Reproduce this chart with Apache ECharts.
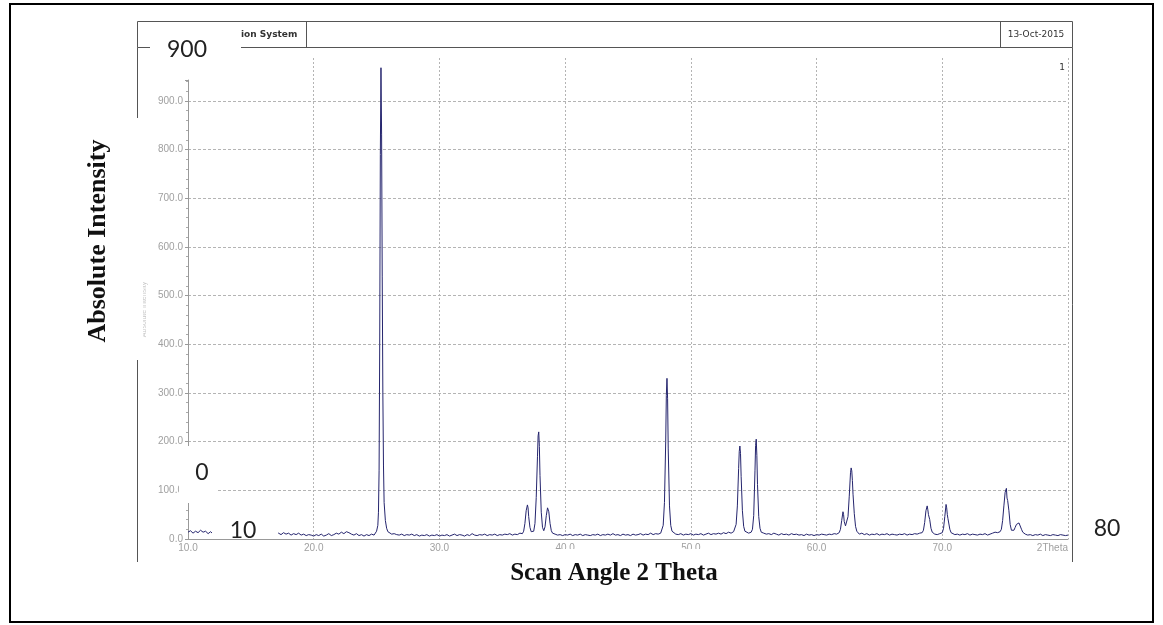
<!DOCTYPE html>
<html>
<head>
<meta charset="utf-8">
<title>XRD scan</title>
<script src="https://cdn.jsdelivr.net/npm/echarts@6/dist/echarts.min.js"></script>
<style>
  html, body { margin: 0; padding: 0; background: #fff; }
  #chart { width: 1163px; height: 625px; }
</style>
</head>
<body>
<div id="chart"></div>
<script>
// [2theta, counts], split by region
const scanA = [
  [10.0,14],[10.2,17],[10.4,12],[10.6,16],[10.8,13],[11.0,18],[11.2,14],[11.4,16],[11.6,11],[11.8,15],
  [12.0,10],[12.2,12],[12.4,9],[12.6,11],[12.8,8],[13.0,12],[13.2,10],[13.4,9],[13.6,11],[13.8,8],
  [14.0,10],[14.2,12],[14.4,9],[14.6,10],[14.8,8],[15.0,11],[15.2,9],[15.4,10],[15.6,8],[15.8,11],
  [16.0,9],[16.2,10],[16.4,8],[16.6,11],[16.8,9],[17.0,10],[17.2,12],[17.4,9],[17.6,13],[17.8,10],
  [18.0,12],[18.2,8],[18.4,11],[18.6,9],[18.8,12],[19.0,8],[19.2,10],[19.4,7],[19.6,9],[19.8,8],
  [20.0,6],[20.2,9],[20.4,7],[20.6,10],[20.8,6],[21.0,8],[21.2,11],[21.4,7],[21.6,9],[21.8,12],
  [22.0,10],[22.2,14],[22.4,11],[22.6,15],[22.8,13],[23.0,10],[23.2,8],[23.4,11],[23.6,7],[23.8,9],
  [24.0,6],[24.2,9],[24.4,7],[24.6,10],[24.8,8]
];
const peak25 = [
  [24.9,10],[25.0,16],[25.1,28],[25.15,55],[25.2,140],[25.25,400],[25.3,790],[25.35,968],[25.4,830],
  [25.45,540],[25.5,300],[25.55,150],[25.6,75],[25.7,38],[25.8,22],[25.9,15],[26.0,12],[26.2,10]
];
const scanB = [
  [26.4,11],[26.6,9],[26.8,8],[27.0,10],[27.2,7],[27.4,9],[27.6,8],[27.8,10],[28.0,7],[28.2,9],
  [28.4,6],[28.6,8],[28.8,7],[29.0,9],[29.2,6],[29.4,8],[29.6,7],[29.8,9],[30.0,6],[30.2,8],
  [30.4,7],[30.6,9],[30.8,6],[31.0,8],[31.2,10],[31.4,7],[31.6,9],[31.8,8],[32.0,6],[32.2,9],
  [32.4,7],[32.6,11],[32.8,8],[33.0,7],[33.2,9],[33.4,8],[33.6,10],[33.8,7],[34.0,9],[34.2,8],
  [34.4,10],[34.6,7],[34.8,9],[35.0,8],[35.2,10],[35.4,9],[35.6,11],[35.8,8],[36.0,10],[36.2,9],
  [36.4,12],[36.6,11]
];
const peak38 = [
  [36.7,16],[36.8,32],[36.9,58],[37.0,70],[37.05,64],[37.1,46],[37.2,24],[37.3,15],[37.4,13],
  [37.5,16],[37.6,32],[37.7,85],[37.8,170],[37.85,212],[37.9,220],[37.95,190],[38.0,130],[38.1,55],
  [38.2,24],[38.3,17],[38.4,25],[38.5,48],[38.6,64],[38.65,66],[38.7,56],[38.8,32],[38.9,17],[39.0,12]
];
const scanC = [
  [39.2,10],[39.4,8],[39.6,9],[39.8,7],[40.0,9],[40.2,8],[40.4,10],[40.6,7],[40.8,9],[41.0,8],
  [41.2,10],[41.4,7],[41.6,9],[41.8,8],[42.0,7],[42.2,9],[42.4,8],[42.6,10],[42.8,7],[43.0,9],
  [43.2,8],[43.4,10],[43.6,8],[43.8,11],[44.0,8],[44.2,9],[44.4,7],[44.6,10],[44.8,8],[45.0,9],
  [45.2,7],[45.4,10],[45.6,8],[45.8,9],[46.0,11],[46.2,8],[46.4,10],[46.6,9],[46.8,12],[47.0,9],
  [47.2,11],[47.4,10],[47.6,12]
];
const peak48 = [
  [47.7,15],[47.8,28],[47.9,75],[48.0,200],[48.05,295],[48.1,330],[48.15,288],[48.2,185],
  [48.3,68],[48.4,28],[48.5,16],[48.6,12]
];
const scanD = [
  [48.8,10],[49.0,9],[49.2,11],[49.4,8],[49.6,10],[49.8,9],[50.0,11],[50.2,8],[50.4,10],[50.6,9],
  [50.8,11],[51.0,8],[51.2,10],[51.4,12],[51.6,9],[51.8,11],[52.0,10],[52.2,12],[52.4,10],[52.6,13],
  [52.8,11],[53.0,14],[53.2,12],[53.4,15]
];
const peak54 = [
  [53.5,18],[53.6,30],[53.7,68],[53.8,145],[53.85,180],[53.9,191],[53.95,176],[54.0,128],[54.1,58],
  [54.2,26],[54.3,16],[54.4,13],[54.6,12],[54.8,14],[54.9,20],[55.0,48],[55.1,140],[55.15,192],
  [55.2,205],[55.25,172],[55.3,112],[55.4,46],[55.5,22],[55.6,14]
];
const scanE = [
  [55.8,12],[56.0,10],[56.2,11],[56.4,9],[56.6,12],[56.8,10],[57.0,8],[57.2,11],[57.4,9],[57.6,10],
  [57.8,8],[58.0,11],[58.2,9],[58.4,10],[58.6,8],[58.8,9],[59.0,7],[59.2,10],[59.4,8],[59.6,9],
  [59.8,7],[60.0,9],[60.2,8],[60.4,10],[60.6,9],[60.8,8],[61.0,10],[61.2,9],[61.4,11],[61.6,10],
  [61.8,13]
];
const peak62 = [
  [61.9,20],[62.0,38],[62.1,56],[62.15,50],[62.2,36],[62.3,27],[62.4,30],[62.5,46],[62.6,88],
  [62.7,136],[62.75,146],[62.8,140],[62.85,120],[62.9,92],[63.0,52],[63.1,26],[63.2,16],[63.3,12]
];
const scanF = [
  [63.4,10],[63.6,12],[63.8,9],[64.0,11],[64.2,8],[64.4,10],[64.6,9],[64.8,11],[65.0,8],[65.2,10],
  [65.4,9],[65.6,11],[65.8,8],[66.0,10],[66.2,9],[66.4,8],[66.6,10],[66.8,9],[67.0,11],[67.2,8],
  [67.4,10],[67.6,9],[67.8,11],[68.0,10],[68.2,12],[68.4,13]
];
const peak69 = [
  [68.5,18],[68.6,34],[68.7,58],[68.8,68],[68.85,60],[68.9,50],[69.0,40],[69.1,22],[69.2,14],[69.3,11],
  [69.4,10],[69.6,9],[69.8,11],[70.0,13],
  [70.1,22],[70.2,46],[70.3,71],[70.35,64],[70.4,50],[70.45,42],[70.5,38],[70.6,20],[70.7,13]
];
const scanH = [
  [70.8,11],[71.0,9],[71.2,10],[71.4,8],[71.6,10],[71.8,9],[72.0,11],[72.2,8],[72.4,10],[72.6,9],
  [72.8,8],[73.0,10],[73.2,9],[73.4,11],[73.6,8],[73.8,10],[74.0,12],[74.2,14],[74.4,13],[74.6,15]
];
const peak75 = [
  [74.7,20],[74.8,38],[74.9,68],[75.0,96],[75.1,104],[75.15,84],[75.2,79],[75.3,58],[75.4,30],
  [75.5,18],[75.6,15],[75.7,18],[75.8,24],[75.9,30],[76.0,28],[76.1,33],[76.2,30],[76.3,20],
  [76.4,14],[76.5,11]
];
const scanI = [
  [76.6,10],[76.8,8],[77.0,9],[77.2,7],[77.4,9],[77.6,8],[77.8,10],[78.0,7],[78.2,9],[78.4,8],
  [78.6,7],[78.8,9],[79.0,8],[79.2,7],[79.4,9],[79.6,8],[79.8,7],[80.0,8]
];

const scan = [].concat(scanA, peak25, scanB, peak38, scanC, peak48, scanD, peak54,
  scanE, peak62, scanF, peak69, scanH, peak75, scanI);

const chart = echarts.init(document.getElementById('chart'), null, { renderer: 'canvas' });

const gridColor = '#b4b4b4';
const labelColor = '#a0a0a0';
const serif = '"Liberation Serif", "Times New Roman", serif';

// white patches with big numbers pasted over the screenshot
function overlay(box, text, cx, cy) {
  return [
    { type: 'rect', z: 100, shape: box, style: { fill: '#fff' } },
    { type: 'text', z: 101, x: cx, y: cy,
      style: { text: text, fill: '#222', font: '23px Lato, "Open Sans", sans-serif',
               textAlign: 'center', textVerticalAlign: 'middle' } }
  ];
}

chart.setOption({
  animation: false,
  backgroundColor: '#fff',
  grid: [
    { left: 188, right: 95, top: 58, bottom: 86 },
    { left: 188, right: 95, top: 80, bottom: 86 }
  ],
  xAxis: [
    {
      gridIndex: 0,
      type: 'value',
      min: 10,
      max: 80,
      interval: 10,
      axisLine: { show: true, lineStyle: { color: '#999', width: 1 } },
      axisTick: { show: false },
      axisLabel: {
        color: labelColor,
        fontSize: 10,
        fontFamily: 'Arial, "Liberation Sans", sans-serif',
        margin: 4,
        alignMaxLabel: 'right',
        formatter: v => (v === 80 ? '2Theta' : v.toFixed(1))
      },
      splitLine: {
        show: true,
        showMinLine: false,
        lineStyle: { color: gridColor, type: [2, 2], width: 1 }
      }
    },
    {
      gridIndex: 1,
      type: 'value',
      min: 10,
      max: 80,
      show: false
    }
  ],
  yAxis: [
    {
      gridIndex: 0,
      type: 'value',
      min: 0,
      max: 988,
      interval: 100,
      axisLine: { show: false },
      axisTick: { show: false },
      axisLabel: { show: false },
      splitLine: {
        show: true,
        showMinLine: false,
        showMaxLine: false,
        lineStyle: { color: gridColor, type: [3, 2], width: 1 }
      }
    },
    {
      // visible intensity axis, shorter than the plot frame
      gridIndex: 1,
      type: 'value',
      min: 0,
      max: 943,
      interval: 100,
      name: 'Absolute Intensity',
      nameLocation: 'middle',
      nameGap: 34,
      nameTextStyle: { color: '#c8c8c8', fontSize: 7 },
      axisLine: { show: true, lineStyle: { color: '#999', width: 1 } },
      axisTick: { show: true, length: 3, lineStyle: { color: '#999' } },
      minorTick: { show: true, splitNumber: 5, length: 2, lineStyle: { color: '#aaa' } },
      axisLabel: {
        color: labelColor,
        fontSize: 10,
        fontFamily: 'Arial, "Liberation Sans", sans-serif',
        margin: 5,
        showMaxLabel: false,
        formatter: v => v.toFixed(1)
      },
      splitLine: { show: false }
    }
  ],
  series: [
    {
      type: 'line',
      xAxisIndex: 0,
      yAxisIndex: 0,
      data: scan,
      showSymbol: false,
      clip: false,
      lineStyle: { color: '#25256e', width: 1 }
    }
  ],
  graphic: [].concat(
    [
      // outer border of the figure
      { type: 'rect', shape: { x: 10, y: 4, width: 1143, height: 618 },
        style: { fill: 'none', stroke: '#000', lineWidth: 2 } },
      // report header strip
      { type: 'rect', shape: { x: 137.5, y: 21.5, width: 935, height: 26 },
        style: { fill: 'none', stroke: '#555', lineWidth: 1 } },
      { type: 'line', shape: { x1: 306.5, y1: 21.5, x2: 306.5, y2: 47.5 },
        style: { stroke: '#555', lineWidth: 1 } },
      { type: 'line', shape: { x1: 1000.5, y1: 21.5, x2: 1000.5, y2: 47.5 },
        style: { stroke: '#555', lineWidth: 1 } },
      { type: 'line', shape: { x1: 137.5, y1: 47.5, x2: 137.5, y2: 562 },
        style: { stroke: '#555', lineWidth: 1 } },
      { type: 'line', shape: { x1: 1072.5, y1: 47.5, x2: 1072.5, y2: 562 },
        style: { stroke: '#555', lineWidth: 1 } },
      { type: 'text', x: 241, y: 35,
        style: { text: 'ion System', fill: '#333', font: 'bold 9px "DejaVu Sans", sans-serif',
                 textVerticalAlign: 'middle' } },
      { type: 'text', x: 1036, y: 35,
        style: { text: '13-Oct-2015', fill: '#333', font: '9px "DejaVu Sans", sans-serif',
                 textAlign: 'center', textVerticalAlign: 'middle' } },
      { type: 'text', x: 1065, y: 68,
        style: { text: '1', fill: '#333', font: '9px "DejaVu Sans", sans-serif',
                 textAlign: 'right', textVerticalAlign: 'middle' } }
    ],
    overlay({ x: 150, y: 25, width: 91, height: 37 }, '900', 187, 50),
    overlay({ x: 179, y: 446, width: 39, height: 57 }, '0', 202, 473),
    overlay({ x: 212, y: 506, width: 66, height: 33 }, '10', 243, 531),
    overlay({ x: 1088, y: 512, width: 40, height: 34 }, '80', 1107, 529),
    [
      // axis titles
      { type: 'rect', z: 100, shape: { x: 70, y: 118, width: 73, height: 242 }, style: { fill: '#fff' } },
      { type: 'text', z: 101, x: 98, y: 241, rotation: Math.PI / 2,
        style: { text: 'Absolute Intensity', fill: '#111', font: 'bold 26px ' + serif,
                 textAlign: 'center', textVerticalAlign: 'middle' } },
      { type: 'rect', z: 100, shape: { x: 510, y: 549, width: 212, height: 45 }, style: { fill: '#fff' } },
      { type: 'text', z: 101, x: 614, y: 574,
        style: { text: 'Scan Angle 2 Theta', fill: '#111', font: 'bold 25px ' + serif,
                 textAlign: 'center', textVerticalAlign: 'middle' } }
    ]
  )
});
</script>
</body>
</html>
